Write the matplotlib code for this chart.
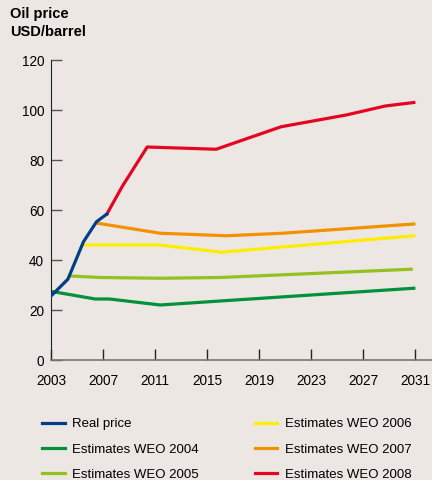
import matplotlib.pyplot as plt

plt.rcParams['font.family'] = ['Liberation Sans', 'DejaVu Sans']

bg = '#ece7e3'

real_x = [2003.0, 2004.3, 2005.5, 2006.5, 2007.3]
real_y = [25.6, 32.3, 47.3, 55.3, 58.4]

weo2004_x = [2003.2, 2006.4, 2007.5, 2011.4, 2016.0, 2030.9]
weo2004_y = [27.3, 24.4, 24.4, 22.0, 23.6, 28.7]

weo2005_x = [2004.5, 2006.8, 2011.4, 2016.0, 2030.7]
weo2005_y = [33.6, 33.0, 32.7, 33.0, 36.3]

weo2006_x = [2005.6, 2011.4, 2016.1, 2030.9]
weo2006_y = [46.0, 46.0, 43.1, 49.7]

weo2007_x = [2006.6, 2011.4, 2016.5, 2020.8, 2030.9]
weo2007_y = [54.7, 50.7, 49.7, 50.7, 54.4]

weo2008_x = [2007.3, 2008.5, 2010.4, 2015.7, 2020.7, 2025.7, 2028.7, 2030.9]
weo2008_y = [58.4, 69.6, 85.2, 84.3, 93.3, 98.0, 101.6, 103.0]

xticks = [2003, 2007, 2011, 2015, 2019, 2023, 2027, 2031]
yticks = [0, 20, 40, 60, 80, 100, 120]

fig = plt.figure(figsize=(4.32, 4.8), dpi=100, facecolor=bg)
ax = fig.add_axes([0.118, 0.25, 0.882, 0.625], facecolor=bg)

lw = 2.3
h_real, = ax.plot(real_x, real_y, color='#003f87', lw=lw, zorder=5, label='Real price')
h04, = ax.plot(weo2004_x, weo2004_y, color='#00913a', lw=lw, label='Estimates WEO 2004')
h05, = ax.plot(weo2005_x, weo2005_y, color='#95c11f', lw=lw, label='Estimates WEO 2005')
h06, = ax.plot(weo2006_x, weo2006_y, color='#ffed00', lw=lw, label='Estimates WEO 2006')
h07, = ax.plot(weo2007_x, weo2007_y, color='#f39200', lw=lw, label='Estimates WEO 2007')
h08, = ax.plot(weo2008_x, weo2008_y, color='#e30521', lw=lw, label='Estimates WEO 2008')

ax.set_xlim(2003, 2032.3)
ax.set_ylim(0, 120)
ax.set_xticks(xticks)
ax.set_yticks(yticks)
ax.tick_params(axis='y', direction='in', length=8, width=1, color='#555555',
               labelsize=9.8, pad=5)
ax.tick_params(axis='x', direction='in', length=8, width=1, color='#222222',
               labelsize=9.8, pad=10)
for s in ['top', 'right']:
    ax.spines[s].set_visible(False)
ax.spines['left'].set_color('#222222')
ax.spines['bottom'].set_color('#777777')
ax.spines['bottom'].set_linewidth(1.2)

fig.text(0.023, 0.985, 'Oil price\nUSD/barrel', fontsize=10.5, fontweight='bold',
         va='top', ha='left', linespacing=1.3)

fig.legend(handles=[h_real, h04, h05, h06, h07, h08], ncol=2, frameon=False,
           loc='lower left', bbox_to_anchor=(0.07, -0.027), fontsize=9.5,
           handlelength=1.7, handletextpad=0.6, columnspacing=4.2,
           labelspacing=1.0)

fig.savefig('out.png', dpi=100, facecolor=bg)
